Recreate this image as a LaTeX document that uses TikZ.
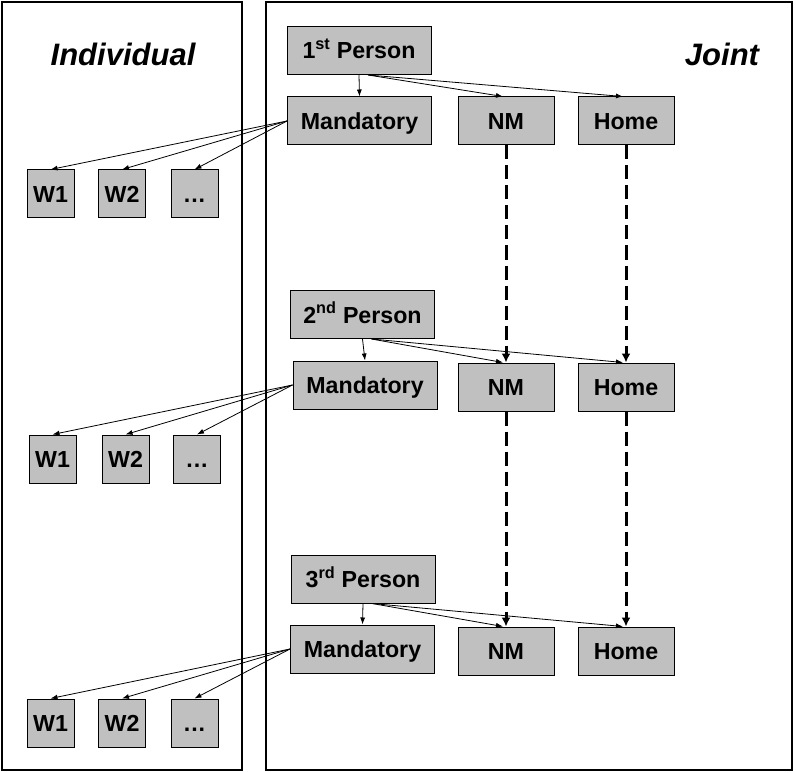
\documentclass[tikz,border=0pt]{standalone}
\usepackage{fontspec}
\setmainfont{Liberation Sans}
\usetikzlibrary{arrows.meta}
\definecolor{boxgray}{RGB}{192,192,192}
\tikzset{
  box/.style={draw=black, line width=1pt, fill=boxgray, rectangle, inner sep=0pt,
    text height=17pt, text depth=0pt,
    font=\fontsize{23.2}{27}\selectfont\bfseries},
  wide/.style={box, minimum width=144pt, minimum height=48pt},
  mid/.style={box, minimum width=96pt, minimum height=48pt},
  small/.style={box, minimum width=47pt, minimum height=48pt},
  thin/.style={line width=0.8pt, -{Latex[length=7pt,width=5pt]}},
  dashar/.style={line width=3pt, dash pattern=on 14pt off 6pt, -{Latex[length=9pt,width=9pt]}},
  panel/.style={draw=black, line width=2pt},
  title/.style={font=\fontsize{31}{36}\selectfont\bfseries\itshape}
}
\begin{document}
\begin{tikzpicture}[x=1pt,y=-1pt]
\useasboundingbox (0,0) rectangle (796,773);
\fill[white] (0,0) rectangle (796,773);
\draw[panel] (2,2) rectangle (242,770);
\draw[panel] (266,2) rectangle (792,770);
\node[title] (ind) at (123,54) {Individual};
\node[title] (joint) at (722,54) {Joint};

% row 1
\node[wide] (P1) at (359,50.5) {1\textsuperscript{st} Person};
\node[wide] (M1) at (359.5,121) {Mandatory};
\node[mid] (N1) at (506,121) {NM};
\node[mid] (H1) at (626,121) {Home};
\node[small] (A1) at (50.5,194) {W1};
\node[small] (B1) at (122,194) {W2};
\node[small] (C1) at (194.5,194) {.\kern1pt.\kern1pt.};

% row 2
\node[wide] (P2) at (362.5,314.5) {2\textsuperscript{nd} Person};
\node[wide] (M2) at (365,385) {Mandatory};
\node[mid] (N2) at (506,387) {NM};
\node[mid] (H2) at (626,387) {Home};
\node[small] (A2) at (52.5,459) {W1};
\node[small] (B2) at (125.5,459) {W2};
\node[small] (C2) at (197,459) {.\kern1pt.\kern1pt.};

% row 3
\node[wide] (P3) at (363,579) {3\textsuperscript{rd} Person};
\node[wide] (M3) at (362.5,649) {Mandatory};
\node[mid] (N3) at (506,651) {NM};
\node[mid] (H3) at (626,651) {Home};
\node[small] (A3) at (50.5,723) {W1};
\node[small] (B3) at (122,723) {W2};
\node[small] (C3) at (194.5,723) {.\kern1pt.\kern1pt.};

% person arrows
\foreach \i in {1,2,3}{
  \draw[thin] (P\i.south) -- (M\i.north);
  \draw[thin] ([xshift=9pt]P\i.south) -- ([xshift=-3pt]N\i.north);
  \draw[thin] ([xshift=9pt]P\i.south) -- ([xshift=-3pt]H\i.north);
  \draw[thin] (M\i.west) -- (A\i.north);
  \draw[thin] (M\i.west) -- (B\i.north);
  \draw[thin] (M\i.west) -- (C\i.north);
}

% dashed arrows
\draw[dashar] (N1.south) -- (N2.north);
\draw[dashar] (H1.south) -- (H2.north);
\draw[dashar] (N2.south) -- (N3.north);
\draw[dashar] (H2.south) -- (H3.north);
\end{tikzpicture}
\end{document}
